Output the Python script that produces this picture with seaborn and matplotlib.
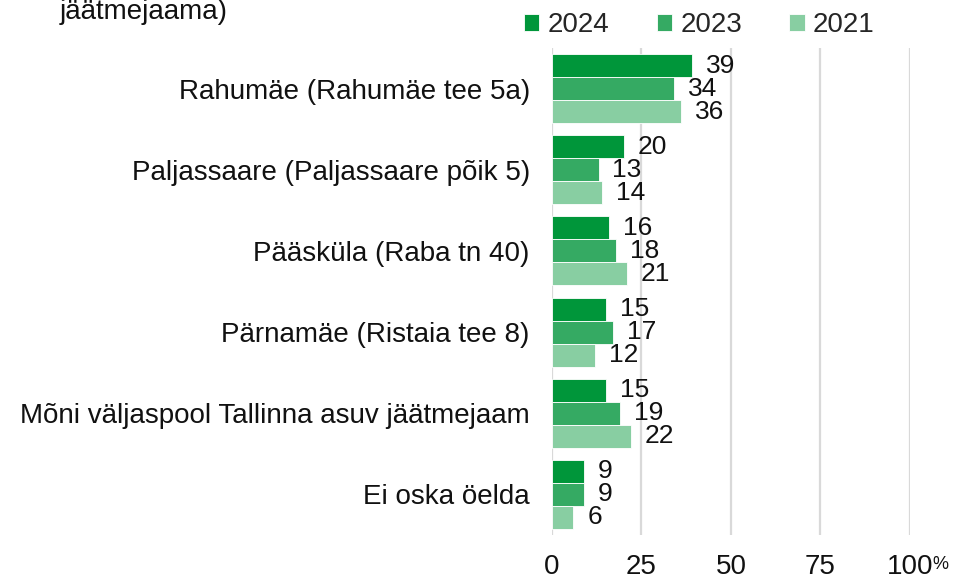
import matplotlib
matplotlib.use("Agg")
import matplotlib.pyplot as plt
import seaborn as sns
import pandas as pd

categories = [
    "Rahumäe (Rahumäe tee 5a)",
    "Paljassaare (Paljassaare põik 5)",
    "Pääsküla (Raba tn 40)",
    "Pärnamäe (Ristaia tee 8)",
    "Mõni väljaspool Tallinna asuv jäätmejaam",
    "Ei oska öelda",
]
years = ["2024", "2023", "2021"]
values_2024 = [39, 20, 16, 15, 15, 9]
values_2023 = [34, 13, 18, 17, 19, 9]
values_2021 = [36, 14, 21, 12, 22, 6]
x_ticks = [0, 25, 50, 75, 100]
title_tail = "jäätmejaama)"

colors = ["#00963a", "#35aa63", "#88cea2"]

sns.set_theme(style="white")
plt.rcParams["font.family"] = ["Liberation Sans", "DejaVu Sans"]

df = pd.DataFrame({
    "category": categories * 3,
    "year": [years[0]] * 6 + [years[1]] * 6 + [years[2]] * 6,
    "value": values_2024 + values_2023 + values_2021,
})

fig = plt.figure(figsize=(9.54, 5.79), dpi=100)
ax = fig.add_axes([552 / 954, 1 - 535 / 579, (910 - 552) / 954, (535 - 48) / 579])

sns.barplot(
    data=df, y="category", x="value", hue="year", hue_order=years,
    order=categories, palette=colors, width=0.85, orient="h",
    edgecolor="white", linewidth=0.6, saturation=1, ax=ax, legend=True,
)

for cont in ax.containers:
    ax.bar_label(cont, fmt="%.0f", padding=10, fontsize=19, color="#111111")

ax.set_xlim(0, 100)
ax.set_xticks(x_ticks)
ax.set_xticklabels([str(t) for t in x_ticks], fontsize=20, color="#111111")
ax.tick_params(axis="x", length=0, pad=14)
ax.tick_params(axis="y", length=0, pad=16, labelsize=20, labelcolor="#111111")
ax.set_xlabel("")
ax.set_ylabel("")
ax.grid(axis="x", color="#d9d9d9", linewidth=1.6)
ax.set_axisbelow(True)
for s in ax.spines.values():
    s.set_visible(False)

ax.annotate("%", xy=(100, 0), xycoords=("data", "axes fraction"),
            xytext=(16, -15), textcoords="offset points",
            fontsize=13, color="#111111", ha="left", va="top")

handles, labels = ax.get_legend_handles_labels()
ax.legend_.remove()
fig.legend(handles, labels, loc="center left",
           bbox_to_anchor=(513 / 954, 1 - 25 / 579), ncol=3, frameon=False,
           fontsize=20, handlelength=0.55, handleheight=0.55,
           handletextpad=0.3, columnspacing=1.7, borderaxespad=0)

fig.text(60 / 954, 1 - 19 / 579, title_tail, fontsize=20, color="#111111",
         ha="left", va="baseline")

fig.savefig("out.png", dpi=100)
